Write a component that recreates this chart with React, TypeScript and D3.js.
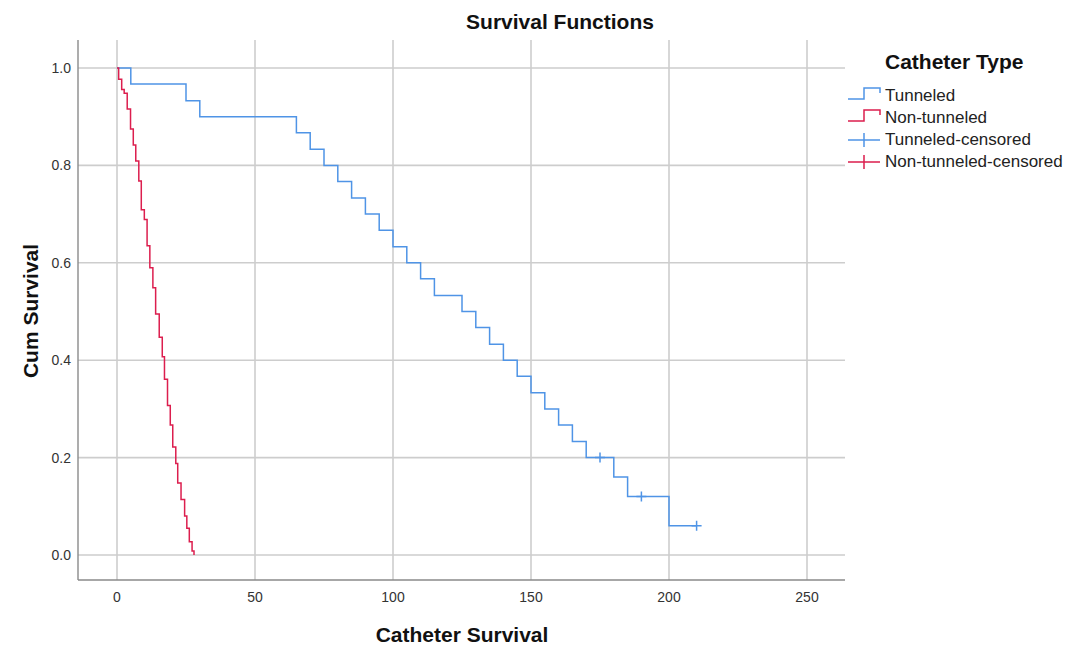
import React from 'react';
import * as d3 from 'd3';

// Kaplan-Meier steps (time, cumulative survival after the event)
const tunneledTimes = [0, 5, 25, 30, 65, 70, 75, 80, 85, 90, 95, 100, 105, 110, 115, 125, 130, 135, 140, 145, 150, 155, 160, 165, 170, 180, 185, 200, 210];
const tunneledSurv = [1, 0.967, 0.933, 0.9, 0.867, 0.833, 0.8, 0.767, 0.733, 0.7, 0.667, 0.633, 0.6, 0.567, 0.533, 0.5, 0.467, 0.433, 0.4, 0.367, 0.333, 0.3, 0.267, 0.233, 0.2, 0.16, 0.12, 0.06, 0.06];
const tunneledCensTimes = [175, 190, 210];
const tunneledCensSurv = [0.2, 0.12, 0.06];

const nonTunneledTimes = [0, 0.6, 1.7, 2.6, 3.7, 4.9, 5.9, 6.8, 7.9, 8.8, 9.9, 10.9, 11.9, 13.0, 14.0, 15.3, 16.4, 17.2, 18.3, 19.3, 20.2, 21.3, 22.0, 23.2, 24.5, 25.3, 26.2, 27.2, 27.9];
const nonTunneledSurv = [1, 0.977, 0.956, 0.948, 0.916, 0.875, 0.842, 0.809, 0.768, 0.709, 0.689, 0.635, 0.59, 0.549, 0.495, 0.447, 0.407, 0.361, 0.307, 0.267, 0.222, 0.188, 0.148, 0.114, 0.08, 0.055, 0.027, 0.008, 0];

const xTicks = [0, 50, 100, 150, 200, 250];
const yTicks = [0, 0.2, 0.4, 0.6, 0.8, 1.0];
const legendLabels = ['Tunneled', 'Non-tunneled', 'Tunneled-censored', 'Non-tunneled-censored'];

const BLUE = '#4f94e6';
const RED = '#dc1e4e';
const FONT = '"Liberation Sans", Arial, sans-serif';

const W = 1065;
const H = 646;
const plotLeft = 78;
const plotRight = 845;
const plotTop = 40;
const plotBottom = 580;

export default function App() {
  const x = d3.scaleLinear().domain([0, 250]).range([117, 807]);
  const y = d3.scaleLinear().domain([0, 1]).range([555, 68]);

  const line = d3.line<[number, number]>()
    .x(d => x(d[0]))
    .y(d => y(d[1]))
    .curve(d3.curveStepAfter);

  const tunneledPts = tunneledTimes.map((t, i) => [t, tunneledSurv[i]] as [number, number]);
  const nonTunneledPts = nonTunneledTimes.map((t, i) => [t, nonTunneledSurv[i]] as [number, number]);

  const plus = (cx: number, cy: number, hw: number, hh: number) =>
    `M${cx - hw},${cy}H${cx + hw}M${cx},${cy - hh}V${cy + hh}`;

  const legendX = 848;
  const legendY = [95, 117, 139, 161];

  return (
    <svg width={W} height={H} style={{ position: 'absolute', left: 0, top: 0, background: '#fff' }} fontFamily={FONT}>
      {/* grid */}
      {xTicks.map(t => (
        <line key={'gx' + t} x1={x(t)} x2={x(t)} y1={plotTop} y2={plotBottom} stroke="#cdcdcd" strokeWidth={1.6} />
      ))}
      {yTicks.map(t => (
        <line key={'gy' + t} x1={plotLeft} x2={plotRight} y1={y(t)} y2={y(t)} stroke="#cdcdcd" strokeWidth={1.6} />
      ))}

      {/* axes */}
      <line x1={plotLeft} x2={plotLeft} y1={plotTop} y2={plotBottom} stroke="#8a8a8a" strokeWidth={1.4} />
      <line x1={plotLeft} x2={plotRight} y1={plotBottom} y2={plotBottom} stroke="#8a8a8a" strokeWidth={1.4} />

      {/* tick labels */}
      {yTicks.map(t => (
        <text key={'ty' + t} x={71} y={y(t) + 5} textAnchor="end" fontSize={14} fill="#333">{t.toFixed(1)}</text>
      ))}
      {xTicks.map(t => (
        <text key={'tx' + t} x={x(t)} y={602} textAnchor="middle" fontSize={14} fill="#333">{t}</text>
      ))}

      {/* curves */}
      <path d={line(tunneledPts) || ''} fill="none" stroke={BLUE} strokeWidth={1.5} />
      <path d={line(nonTunneledPts) || ''} fill="none" stroke={RED} strokeWidth={1.5} />
      {tunneledCensTimes.map((t, i) => (
        <path key={'c' + t} d={plus(x(t), y(tunneledCensSurv[i]), 5, 5)} stroke={BLUE} strokeWidth={1.5} fill="none" />
      ))}

      {/* titles */}
      <text x={560} y={29} textAnchor="middle" fontSize={21} fontWeight="bold" fill="#111">Survival Functions</text>
      <text x={462} y={642} textAnchor="middle" fontSize={21} fontWeight="bold" fill="#111">Catheter Survival</text>
      <text transform="translate(38,311) rotate(-90)" textAnchor="middle" fontSize={21} fontWeight="bold" fill="#111">Cum Survival</text>

      {/* legend */}
      <text x={885} y={69} fontSize={21} fontWeight="bold" fill="#111">Catheter Type</text>
      {legendLabels.map((lab, i) => {
        const cy = legendY[i];
        const color = i % 2 === 0 ? BLUE : RED;
        const d = i < 2
          ? `M${legendX},${cy + 4}H${legendX + 16}V${cy - 7}H${legendX + 32}V${cy - 2}`
          : plus(legendX + 16, cy + 1, 16, 7);
        return (
          <g key={lab}>
            <path d={d} fill="none" stroke={color} strokeWidth={1.5} />
            <text x={885} y={cy + 6} fontSize={17} fill="#222">{lab}</text>
          </g>
        );
      })}
    </svg>
  );
}
